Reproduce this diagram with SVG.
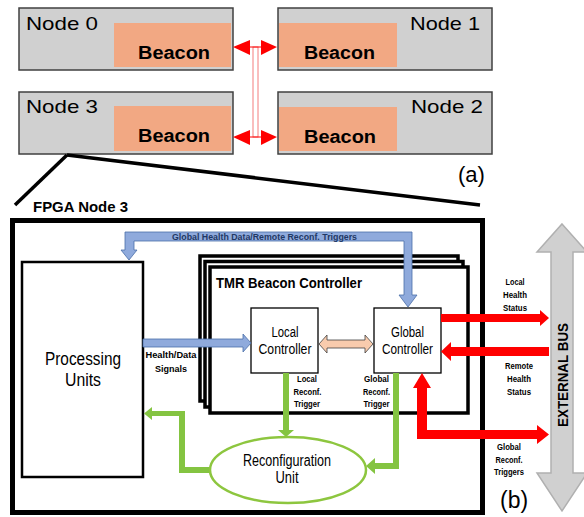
<svg xmlns="http://www.w3.org/2000/svg" width="584" height="517" viewBox="0 0 584 517">
<style>
  text { font-family: "Liberation Sans", Arial, sans-serif; fill: #000; }
  .node { fill: #d0d0d0; stroke: #404040; stroke-width: 1.5; }
  .beacon { fill: #f2a883; }
  .nlabel { font-size: 19px; }
  .blabel { font-size: 18px; font-weight: bold; }
  .box { fill: #fff; stroke: #000; }
  .big { font-size: 18px; text-anchor: middle; }
  .mid { font-size: 14px; text-anchor: middle; }
  .small { font-size: 9px; font-weight: bold; text-anchor: middle; }
  .red { fill: #ff0000; }
  .blue { fill: #8faadc; stroke: #4a6fa8; stroke-width: 0.8; }
  .green { fill: #84c441; }
</style>

<g id="node0">
  <rect class="node" x="19" y="8" width="214" height="62"/>
  <rect class="beacon" x="114" y="23" width="117" height="44"/>
  <text class="nlabel" x="26" y="30" textLength="72" lengthAdjust="spacingAndGlyphs">Node 0</text>
  <text class="blabel" x="138" y="59" textLength="72" lengthAdjust="spacingAndGlyphs">Beacon</text>
</g>
<g id="node1">
  <rect class="node" x="278" y="8" width="214" height="62"/>
  <rect class="beacon" x="279" y="23" width="118" height="44"/>
  <text class="nlabel" x="410" y="30" textLength="70" lengthAdjust="spacingAndGlyphs">Node 1</text>
  <text class="blabel" x="304" y="59" textLength="71" lengthAdjust="spacingAndGlyphs">Beacon</text>
</g>
<g id="node3">
  <rect class="node" x="19" y="92" width="214" height="62"/>
  <rect class="beacon" x="114" y="106" width="117" height="45"/>
  <text class="nlabel" x="26" y="113" textLength="72" lengthAdjust="spacingAndGlyphs">Node 3</text>
  <text class="blabel" x="138" y="142" textLength="72" lengthAdjust="spacingAndGlyphs">Beacon</text>
</g>
<g id="node2">
  <rect class="node" x="278" y="92" width="214" height="62"/>
  <rect class="beacon" x="279" y="107" width="118" height="44"/>
  <text class="nlabel" x="411" y="113" textLength="72" lengthAdjust="spacingAndGlyphs">Node 2</text>
  <text class="blabel" x="304" y="143" textLength="72" lengthAdjust="spacingAndGlyphs">Beacon</text>
</g>
<text x="458" y="182" style="font-size:22px">(a)</text>

<g id="fpga">
  <rect x="12.5" y="220.5" width="470" height="292" fill="none" stroke="#000" stroke-width="5"/>
  <text x="33" y="212" style="font-size:15px;font-weight:bold" textLength="95" lengthAdjust="spacingAndGlyphs">FPGA Node 3</text>
</g>

<g id="processing">
  <rect class="box" x="22" y="262" width="121" height="215" stroke-width="2.5"/>
  <text class="big" x="83" y="365" textLength="76" lengthAdjust="spacingAndGlyphs">Processing</text>
  <text class="big" x="83" y="386" textLength="36" lengthAdjust="spacingAndGlyphs">Units</text>
</g>

<g id="tmr">
  <rect class="box" x="200" y="256" width="258" height="145" stroke-width="3.5"/>
  <rect class="box" x="205" y="261.5" width="258" height="145.5" stroke-width="3.5"/>
  <rect class="box" x="210" y="267" width="258" height="146" stroke-width="3.5"/>
  <text x="216" y="288" style="font-size:15px;font-weight:bold" textLength="146" lengthAdjust="spacingAndGlyphs">TMR Beacon Controller</text>
</g>

<g id="local">
  <rect class="box" x="251" y="308" width="67" height="65" stroke-width="1.3"/>
  <text class="mid" x="285" y="337" textLength="27" lengthAdjust="spacingAndGlyphs">Local</text>
  <text class="mid" x="285" y="354" textLength="53" lengthAdjust="spacingAndGlyphs">Controller</text>
</g>

<g id="global">
  <rect class="box" x="374" y="308" width="67" height="65" stroke-width="1.3"/>
  <text class="mid" x="407.5" y="337" textLength="33" lengthAdjust="spacingAndGlyphs">Global</text>
  <text class="mid" x="407.5" y="354" textLength="51" lengthAdjust="spacingAndGlyphs">Controller</text>
</g>

<g id="bus">
  <polygon points="562,224 587,252 573,252 573,473 587,473 562,511 537,473 551,473 551,252 537,252" fill="#d0d0d0" stroke="#b0b0b0" stroke-width="1.5"/>
  <text transform="translate(567.5,375) rotate(-90)" style="font-size:15px;font-weight:bold;text-anchor:middle" textLength="104" lengthAdjust="spacingAndGlyphs">EXTERNAL BUS</text>
</g>

<g id="connectors">
  <!-- zoom lines -->
  <line x1="67" y1="155" x2="15" y2="205" stroke="#000" stroke-width="3.5"/>
  <line x1="67" y1="155" x2="480" y2="205" stroke="#000" stroke-width="3.5"/>
  <!-- beacon links -->
  <rect x="253" y="47" width="5" height="90" fill="none" stroke="#f47c7c" stroke-width="1"/>
  <line x1="248" y1="47" x2="263" y2="47" stroke="#ff0000" stroke-width="1"/>
  <line x1="248" y1="137" x2="263" y2="137" stroke="#ff0000" stroke-width="1"/>
  <polygon class="red" points="233,47 250,40 250,55"/>
  <polygon class="red" points="277,47 261,40 261,55"/>
  <polygon class="red" points="233,137 250,130 250,145"/>
  <polygon class="red" points="277,137 261,130 261,145"/>

  <!-- blue global health data -->
  <polygon class="blue" points="129,260 137,250 134,250 134,241 404,241 404,295 399,295 408,307 417,295 412,295 412,232 125,232 125,250 121,250"/>
  <text x="172" y="239.5" style="font-size:8.5px;font-weight:bold;fill:#1f3864" textLength="185" lengthAdjust="spacingAndGlyphs">Global Health Data/Remote Reconf. Triggers</text>

  <!-- blue health/data signals -->
  <polygon class="blue" points="143,339 243,339 243,334 251,343 243,352 243,347 143,347"/>
  <text class="small" x="171" y="358" textLength="51" lengthAdjust="spacingAndGlyphs">Health/Data</text>
  <text class="small" x="171" y="372" textLength="32" lengthAdjust="spacingAndGlyphs">Signals</text>

  <!-- orange local-global -->
  <polygon points="319,344 327,335 327,340 365,340 365,335 373,344 365,353 365,348 327,348 327,353" fill="#f8cbad" stroke="#404040" stroke-width="0.8"/>

  <!-- red arrows -->
  <polygon class="red" points="441,314 540,314 540,310 549,318 540,326 540,322 441,322"/>
  <polygon class="red" points="549,347 451,347 451,342 441,351.5 451,361 451,356 549,356"/>
  <polygon class="red" points="422,373 431,388 427,388 427,430 537,430 537,425 549,434.5 537,444 537,439 417,439 417,388 413,388"/>
  <text class="small" x="515" y="285" textLength="19" lengthAdjust="spacingAndGlyphs">Local</text>
  <text class="small" x="515" y="298" textLength="24" lengthAdjust="spacingAndGlyphs">Health</text>
  <text class="small" x="515" y="311" textLength="24" lengthAdjust="spacingAndGlyphs">Status</text>
  <text class="small" x="519" y="369" textLength="28" lengthAdjust="spacingAndGlyphs">Remote</text>
  <text class="small" x="519" y="382" textLength="24" lengthAdjust="spacingAndGlyphs">Health</text>
  <text class="small" x="519" y="395" textLength="24" lengthAdjust="spacingAndGlyphs">Status</text>
  <text class="small" x="509" y="450" textLength="24" lengthAdjust="spacingAndGlyphs">Global</text>
  <text class="small" x="509" y="463" textLength="27" lengthAdjust="spacingAndGlyphs">Reconf.</text>
  <text class="small" x="509" y="475" textLength="30" lengthAdjust="spacingAndGlyphs">Triggers</text>

  <!-- green arrows -->
  <polygon class="green" points="283,373 289,373 289,430 294,430 286,437 278,430 283,430"/>
  <polygon class="green" points="393,373 399,373 399,469 375,469 375,474 366,466 375,458 375,463 393,463"/>
  <polygon class="green" points="144,413.5 152,407 152,411 185,411 185,467 211,467 211,473 179,473 179,416 152,416 152,420"/>
  <text class="small" x="307" y="382" textLength="20" lengthAdjust="spacingAndGlyphs">Local</text>
  <text class="small" x="307.5" y="395" textLength="28" lengthAdjust="spacingAndGlyphs">Reconf.</text>
  <text class="small" x="307" y="407" textLength="26" lengthAdjust="spacingAndGlyphs">Trigger</text>
  <text class="small" x="376.5" y="382" textLength="25" lengthAdjust="spacingAndGlyphs">Global</text>
  <text class="small" x="376.5" y="395" textLength="27" lengthAdjust="spacingAndGlyphs">Reconf.</text>
  <text class="small" x="376.5" y="407" textLength="26" lengthAdjust="spacingAndGlyphs">Trigger</text>
</g>

<g id="reconfig">
  <ellipse cx="288" cy="470" rx="78" ry="33" fill="#fff" stroke="#8dc63f" stroke-width="2.5"/>
  <text x="287" y="466" style="font-size:16px;text-anchor:middle" textLength="88" lengthAdjust="spacingAndGlyphs">Reconfiguration</text>
  <text x="287" y="483" style="font-size:16px;text-anchor:middle" textLength="23" lengthAdjust="spacingAndGlyphs">Unit</text>
</g>

<text x="500" y="508" style="font-size:23px">(b)</text>
</svg>
